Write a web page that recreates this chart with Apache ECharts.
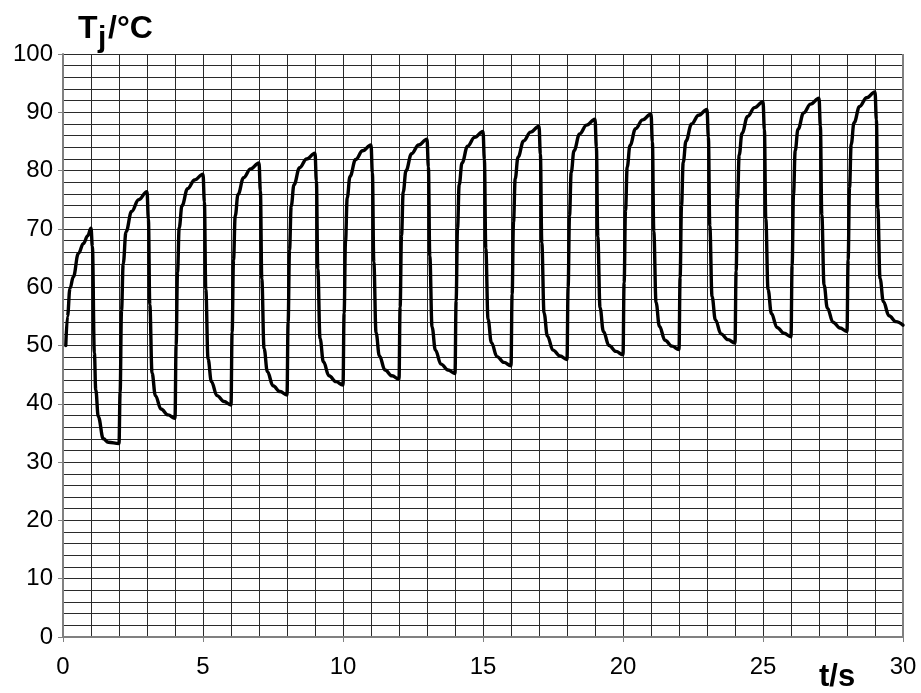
<!DOCTYPE html>
<html>
<head>
<meta charset="utf-8">
<script src="https://cdn.jsdelivr.net/npm/echarts@6/dist/echarts.min.js"></script>
<style>
  html, body { margin: 0; padding: 0; background: #fff; }
  #chart { width: 921px; height: 693px; }
</style>
</head>
<body>
<div id="chart"></div>
<script>
// Axis ranges and tick labels
const xMin = 0, xMax = 30, xStep = 5;
const yMin = 0, yMax = 100, yStep = 10;
const xTitle = 't/s';
const yTitleMain = 'T', yTitleSub = 'j', yTitleUnit = '/°C';

// Time (s) of each read point of the junction temperature trace
const timeS = [
  0.10, 0.16, 0.25, 0.37, 0.55, 0.73, 0.88, 1.00, 1.05, 1.12, 1.17, 1.26, 1.44, 1.62, 2.00,
  2.04, 2.09, 2.15, 2.25, 2.45, 2.70, 3.00, 3.05, 3.10, 3.18, 3.30, 3.50, 3.75, 4.00,
  4.04, 4.09, 4.15, 4.25, 4.45, 4.70, 5.00, 5.05, 5.10, 5.18, 5.30, 5.50, 5.75, 6.00,
  6.04, 6.09, 6.15, 6.25, 6.45, 6.70, 7.00, 7.05, 7.10, 7.18, 7.30, 7.50, 7.75, 8.00,
  8.04, 8.09, 8.15, 8.25, 8.45, 8.70, 9.00, 9.05, 9.10, 9.18, 9.30, 9.50, 9.75, 10.00,
  10.04, 10.09, 10.15, 10.25, 10.45, 10.70, 11.00, 11.05, 11.10, 11.18, 11.30, 11.50, 11.75, 12.00,
  12.04, 12.09, 12.15, 12.25, 12.45, 12.70, 13.00, 13.05, 13.10, 13.18, 13.30, 13.50, 13.75, 14.00,
  14.04, 14.09, 14.15, 14.25, 14.45, 14.70, 15.00, 15.05, 15.10, 15.18, 15.30, 15.50, 15.75, 16.00,
  16.04, 16.09, 16.15, 16.25, 16.45, 16.70, 17.00, 17.05, 17.10, 17.18, 17.30, 17.50, 17.75, 18.00,
  18.04, 18.09, 18.15, 18.25, 18.45, 18.70, 19.00, 19.05, 19.10, 19.18, 19.30, 19.50, 19.75, 20.00,
  20.04, 20.09, 20.15, 20.25, 20.45, 20.70, 21.00, 21.05, 21.10, 21.18, 21.30, 21.50, 21.75, 22.00,
  22.04, 22.09, 22.15, 22.25, 22.45, 22.70, 23.00, 23.05, 23.10, 23.18, 23.30, 23.50, 23.75, 24.00,
  24.04, 24.09, 24.15, 24.25, 24.45, 24.70, 25.00, 25.05, 25.10, 25.18, 25.30, 25.50, 25.75, 26.00,
  26.04, 26.09, 26.15, 26.25, 26.45, 26.70, 27.00, 27.05, 27.10, 27.18, 27.30, 27.50, 27.75, 28.00,
  28.04, 28.09, 28.15, 28.25, 28.45, 28.70, 29.00, 29.05, 29.10, 29.18, 29.30, 29.50, 29.75, 30.00
];

// Junction temperature (°C) at each of those times
const tempC = [
  50.0, 55.0, 59.8, 61.8, 65.8, 67.5, 68.8, 70.1, 67.0, 48.7, 42.4, 37.8, 34.0, 33.4, 33.2,
  42.0, 56.0, 64.0, 69.5, 73.0, 75.0, 76.4, 71.7, 57.0, 45.3, 41.4, 39.1, 38.1, 37.5,
  50.1, 62.6, 70.2, 74.0, 76.9, 78.4, 79.4, 74.6, 59.6, 47.7, 43.8, 41.4, 40.4, 39.8,
  52.3, 64.7, 72.2, 75.9, 78.8, 80.3, 81.3, 76.5, 61.4, 49.5, 45.5, 43.1, 42.1, 41.5,
  54.0, 66.4, 73.9, 77.6, 80.5, 82.0, 83.0, 78.2, 63.1, 51.2, 47.2, 44.8, 43.8, 43.2,
  55.6, 67.9, 75.3, 79.0, 81.9, 83.4, 84.4, 79.6, 64.3, 52.2, 48.2, 45.8, 44.8, 44.2,
  56.6, 68.9, 76.3, 80.0, 82.9, 84.4, 85.4, 80.6, 65.3, 53.2, 49.2, 46.8, 45.8, 45.2,
  57.7, 70.1, 77.6, 81.3, 84.2, 85.7, 86.7, 81.9, 66.6, 54.5, 50.5, 48.1, 47.1, 46.5,
  58.8, 71.2, 78.6, 82.3, 85.1, 86.6, 87.6, 82.8, 67.6, 55.6, 51.6, 49.2, 48.2, 47.6,
  60.0, 72.3, 79.7, 83.4, 86.3, 87.8, 88.8, 84.0, 68.6, 56.5, 52.4, 50.0, 49.0, 48.4,
  60.8, 73.2, 80.6, 84.3, 87.2, 88.7, 89.7, 84.9, 69.5, 57.4, 53.3, 50.9, 49.9, 49.3,
  61.7, 74.0, 81.4, 85.1, 88.0, 89.5, 90.5, 85.7, 70.5, 58.4, 54.4, 52.0, 51.0, 50.4,
  62.8, 75.2, 82.7, 86.4, 89.3, 90.8, 91.8, 87.0, 71.7, 59.6, 55.5, 53.1, 52.1, 51.5,
  63.8, 76.0, 83.4, 87.1, 89.9, 91.4, 92.4, 87.6, 72.4, 60.4, 56.4, 54.0, 53.0, 52.4,
  64.7, 77.1, 84.5, 88.2, 91.0, 92.5, 93.5, 88.7, 73.5, 61.5, 57.5, 55.1, 54.1, 53.5
];

const seriesData = timeS.map((t, i) => [t, tempC[i]]);

const FONT = '"Liberation Sans", Arial, sans-serif';
const gridColor = '#2a2a2a';
const axisColor = '#808080';

const chart = echarts.init(document.getElementById('chart'), null, { renderer: 'canvas' });
chart.setOption({
  animation: false,
  backgroundColor: '#ffffff',
  grid: { left: 63, right: 18, top: 54, bottom: 56, containLabel: false },
  xAxis: {
    type: 'value', min: xMin, max: xMax, interval: xStep,
    axisLine: { show: true, onZero: false, lineStyle: { color: axisColor, width: 2 } },
    axisTick: { show: true, length: 5, lineStyle: { color: axisColor, width: 1 } },
    axisLabel: { fontSize: 24, color: '#000', fontFamily: FONT, margin: 18 },
    splitLine: { show: true, lineStyle: { color: gridColor, width: 1 } },
    minorTick: { show: false, splitNumber: 5 },
    minorSplitLine: { show: true, lineStyle: { color: gridColor, width: 1 } }
  },
  yAxis: {
    type: 'value', min: yMin, max: yMax, interval: yStep,
    axisLine: { show: true, onZero: false, lineStyle: { color: axisColor, width: 2 } },
    axisTick: { show: true, length: 5, lineStyle: { color: axisColor, width: 1 } },
    axisLabel: { fontSize: 24, color: '#000', fontFamily: FONT, margin: 10 },
    splitLine: { show: true, lineStyle: { color: gridColor, width: 1 } },
    minorTick: { show: false, splitNumber: 5 },
    minorSplitLine: { show: true, lineStyle: { color: gridColor, width: 1 } }
  },
  graphic: [
    { type: 'line', shape: { x1: 903, y1: 54, x2: 903, y2: 637 }, style: { stroke: axisColor, lineWidth: 2 }, z: 5 },
    { type: 'text', left: 78, top: 13, style: { text: yTitleMain, font: 'bold 32px ' + FONT, fill: '#000' } },
    { type: 'text', left: 98, top: 24, style: { text: yTitleSub, font: 'bold 30px ' + FONT, fill: '#000' } },
    { type: 'text', left: 108, top: 13, style: { text: yTitleUnit, font: 'bold 32px ' + FONT, fill: '#000' } },
    { type: 'text', left: 819, top: 662, style: { text: xTitle, font: 'bold 31px ' + FONT, fill: '#000' } }
  ],
  series: [{
    type: 'line',
    data: seriesData,
    showSymbol: false,
    smooth: 0.4,
    smoothMonotone: 'x',
    lineStyle: { color: '#000', width: 3.4, join: 'round', cap: 'round' },
    z: 10
  }]
});
</script>
</body>
</html>
